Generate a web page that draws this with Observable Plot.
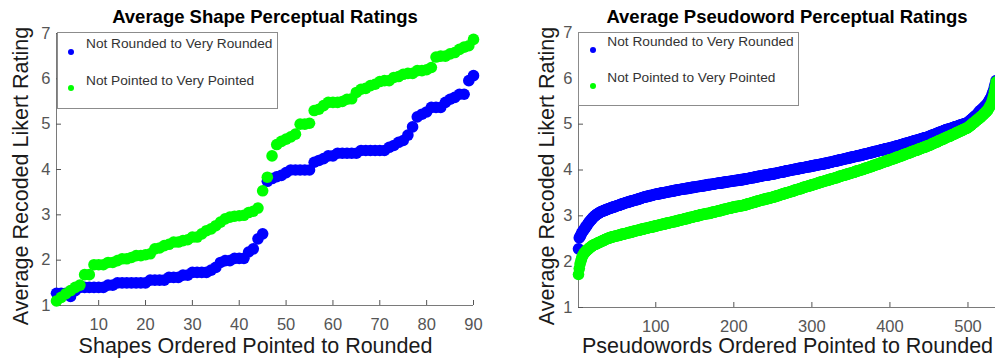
<!DOCTYPE html>
<html><head><meta charset="utf-8">
<script src="https://cdn.jsdelivr.net/npm/d3@7"></script>
<script src="https://cdn.jsdelivr.net/npm/@observablehq/plot@0.6"></script>
<style>
body{margin:0;background:#fff;}
#wrap{position:relative;width:995px;height:362px;overflow:hidden;font-family:"Liberation Sans",Arial,sans-serif;}
#wrap svg{position:absolute;top:0;}
.abs{position:absolute;white-space:nowrap;line-height:1;}
.title{font-weight:bold;font-size:18.5px;color:#000;transform:translate(-50%,-50%);}
.xlab{font-size:21.5px;color:#1a1a1a;transform:translate(-50%,-50%);}
.ylab{font-size:21.5px;color:#1a1a1a;transform:translate(-50%,-50%) rotate(-90deg);}
.legbox{border:1px solid #8c8c8c;background:#fff;box-sizing:border-box;}
.legtxt{font-size:13.7px;color:#333;transform:translateY(-50%);}
.legdot{width:6px;height:6px;border-radius:50%;transform:translate(-50%,-50%);}
</style>
</head><body>
<div id="wrap"></div>
<script>
// ---- Data ----
const seriesNames = ["Not Rounded to Very Rounded", "Not Pointed to Very Pointed"];
const seriesColors = ["#0000ff", "#00ff00"];
const yTicks = [1, 2, 3, 4, 5, 6, 7];
const shapeXTicks = [10, 20, 30, 40, 50, 60, 70, 80, 90];
const wordXTicks = [100, 200, 300, 400, 500];

// Shapes (90), ordered pointed to rounded
const shapeRounded = [
  1.27,1.27,1.27,1.20,1.33,1.40,1.40,1.40,1.40,1.40,
  1.40,1.45,1.45,1.50,1.50,1.50,1.50,1.50,1.50,1.50,
  1.56,1.56,1.56,1.56,1.62,1.62,1.62,1.67,1.67,1.73,
  1.73,1.73,1.73,1.78,1.84,1.95,1.99,1.99,2.04,2.04,
  2.04,2.18,2.25,2.47,2.58,3.74,3.80,3.84,3.87,3.93,
  3.99,3.99,3.99,3.99,3.99,4.16,4.20,4.24,4.30,4.30,
  4.36,4.36,4.36,4.36,4.36,4.42,4.42,4.42,4.42,4.42,
  4.42,4.49,4.53,4.60,4.64,4.76,4.94,5.16,5.22,5.27,
  5.37,5.37,5.37,5.48,5.55,5.59,5.66,5.66,5.96,6.07
];
const shapePointed = [
  1.10,1.18,1.26,1.33,1.40,1.45,1.68,1.68,1.90,1.90,
  1.90,1.95,1.95,1.99,2.03,2.03,2.06,2.10,2.10,2.12,
  2.14,2.25,2.27,2.32,2.35,2.40,2.40,2.43,2.45,2.51,
  2.51,2.58,2.65,2.69,2.76,2.84,2.91,2.95,2.97,2.98,
  2.99,3.05,3.08,3.15,3.53,3.83,4.30,4.55,4.62,4.67,
  4.72,4.78,5.00,5.00,5.02,5.30,5.33,5.41,5.48,5.48,
  5.48,5.50,5.55,5.56,5.70,5.77,5.79,5.85,5.88,5.94,
  5.96,5.96,6.03,6.05,6.10,6.12,6.12,6.18,6.18,6.20,
  6.25,6.48,6.50,6.50,6.55,6.58,6.65,6.70,6.73,6.87
];

// Pseudowords (536), ordered pointed to rounded
const wordRounded = [
  2.28,2.52,2.55,2.58,2.62,2.65,2.67,2.70,2.72,2.75,
  2.77,2.80,2.82,2.85,2.87,2.89,2.91,2.93,2.95,2.97,
  2.98,3.00,3.01,3.03,3.04,3.05,3.06,3.07,3.08,3.09,
  3.10,3.10,3.11,3.12,3.12,3.13,3.14,3.14,3.15,3.16,
  3.16,3.17,3.18,3.18,3.19,3.19,3.20,3.20,3.21,3.22,
  3.22,3.23,3.23,3.24,3.25,3.25,3.26,3.26,3.27,3.28,
  3.28,3.29,3.29,3.30,3.30,3.31,3.31,3.32,3.32,3.33,
  3.33,3.34,3.34,3.35,3.35,3.36,3.36,3.37,3.37,3.38,
  3.38,3.39,3.40,
  3.40,3.41,3.41,3.42,3.42,3.42,3.43,3.43,3.44,3.44,
  3.44,3.45,3.45,3.46,3.46,3.47,3.47,
  3.47,3.48,3.48,3.48,3.49,3.49,3.49,3.50,3.50,3.50,
  3.51,3.51,3.51,3.52,3.52,3.52,3.53,3.53,3.53,3.54,
  3.54,3.54,3.55,3.55,3.55,3.56,
  3.56,3.56,3.57,3.57,3.57,3.58,3.58,3.58,3.58,3.59,
  3.59,3.59,3.60,3.60,3.60,3.60,3.61,3.61,3.61,3.62,
  3.62,3.62,3.62,3.63,3.63,3.63,3.64,3.64,3.64,3.64,
  3.65,3.65,3.65,3.66,3.66,3.66,3.66,3.67,3.67,3.67,
  3.68,3.68,
  3.68,3.68,3.69,3.69,3.69,3.69,3.70,3.70,3.70,3.71,
  3.71,3.71,3.71,3.72,3.72,3.72,3.72,3.73,3.73,3.73,
  3.73,3.74,3.74,3.74,3.75,3.75,3.75,3.75,3.76,3.76,
  3.76,3.76,3.77,3.77,3.77,3.77,3.78,3.78,3.78,3.78,
  3.79,3.79,3.79,
  3.79,3.80,3.80,3.80,3.81,3.81,3.81,3.82,3.82,3.82,
  3.83,3.83,3.83,3.84,3.84,3.84,3.85,3.85,3.85,3.86,
  3.86,3.86,3.87,3.87,3.87,3.88,3.88,3.88,3.89,3.89,
  3.89,3.89,3.90,3.90,3.90,3.91,3.91,3.91,
  3.91,3.92,3.92,3.92,3.93,3.93,3.94,3.94,3.94,3.95,
  3.95,3.95,3.96,3.96,3.96,3.97,3.97,3.98,3.98,3.98,
  3.99,3.99,3.99,4.00,4.00,4.00,4.01,4.01,
  4.01,4.02,4.02,4.02,4.03,4.03,4.03,4.04,4.04,4.04,
  4.05,4.05,4.05,4.06,4.06,4.06,4.07,4.07,4.07,4.08,
  4.08,4.08,4.09,4.09,4.09,4.10,4.10,4.10,4.11,4.11,
  4.11,4.12,4.12,4.12,4.13,4.13,4.13,4.14,4.14,4.14,
  4.15,4.15,4.15,
  4.16,4.16,4.17,4.17,4.17,4.18,4.18,4.19,4.19,4.19,
  4.20,4.20,4.21,4.21,4.21,4.22,4.22,4.23,4.23,4.23,
  4.24,4.24,4.25,4.25,4.25,4.26,4.26,4.27,4.27,4.27,
  4.28,4.28,4.29,4.29,4.29,4.30,4.30,4.31,4.31,4.31,
  4.32,4.32,
  4.32,4.33,4.33,4.34,4.34,4.35,4.35,4.35,4.36,4.36,
  4.37,4.37,4.38,4.38,4.38,4.39,4.39,4.40,4.40,4.41,
  4.41,4.41,4.42,4.42,4.43,4.43,4.44,4.44,4.44,4.45,
  4.45,4.46,4.46,4.47,4.47,4.47,4.48,4.48,4.49,4.49,
  4.49,4.50,4.50,
  4.51,4.51,4.52,4.52,4.53,4.53,4.54,4.54,4.55,4.55,
  4.56,4.56,4.57,4.57,4.58,4.58,4.59,4.59,4.60,4.60,
  4.61,4.61,4.62,4.62,4.63,4.63,4.64,4.64,4.65,4.65,
  4.66,4.66,4.67,4.67,4.68,4.68,4.69,4.69,4.70,4.70,
  4.71,4.71,4.72,
  4.72,4.73,4.74,4.74,4.75,4.76,4.76,4.77,4.78,4.78,
  4.79,4.80,4.80,4.81,4.82,4.82,4.83,4.84,4.84,4.85,
  4.86,4.86,4.87,4.88,4.88,4.89,4.89,4.90,4.90,4.91,
  4.91,4.92,4.92,4.93,
  4.94,4.94,4.95,4.95,4.96,4.97,4.97,4.98,4.98,4.99,
  4.99,5.00,5.00,5.01,5.02,5.02,5.03,5.04,
  5.05,5.07,5.08,5.10,5.11,5.13,5.14,5.16,5.17,5.19,
  5.20,5.22,5.24,5.26,5.28,5.30,
  5.31,5.33,5.34,5.36,5.38,5.39,5.41,5.43,5.45,
  5.48,5.51,5.54,5.57,5.60,5.65,5.70,5.75,5.82,5.88,5.95
];
const wordPointed = [
  1.72,1.85,1.95,2.01,2.07,2.12,2.15,2.18,2.20,2.22,
  2.24,2.25,2.27,2.28,2.30,2.31,2.32,2.34,2.35,
  2.36,2.37,2.38,2.38,2.39,2.40,2.41,2.42,2.42,2.43,
  2.44,2.45,2.46,2.46,2.47,2.48,2.49,2.50,2.50,2.51,
  2.52,
  2.52,2.53,2.53,2.54,2.54,2.55,2.55,2.56,2.56,2.56,
  2.57,2.57,2.58,2.58,2.59,2.59,2.60,2.60,2.60,2.61,
  2.61,2.62,2.62,2.63,2.63,2.64,2.64,2.64,2.65,2.65,
  2.66,2.66,2.67,2.67,2.68,2.68,2.68,2.69,2.69,2.70,
  2.70,2.71,2.71,
  2.71,2.72,2.72,2.73,2.73,2.73,2.74,2.74,2.75,2.75,
  2.75,2.76,2.76,2.77,2.77,2.77,2.78,
  2.78,2.79,2.79,2.80,2.80,2.80,2.81,2.81,2.82,2.82,
  2.82,2.83,2.83,2.84,2.84,2.84,2.85,2.85,2.86,2.86,
  2.86,2.87,2.87,2.88,2.88,2.88,
  2.89,2.89,2.90,2.90,2.91,2.91,2.91,2.92,2.92,2.93,
  2.93,2.94,2.94,2.94,2.95,2.95,2.96,2.96,2.97,2.97,
  2.97,2.98,2.98,2.99,2.99,3.00,3.00,3.00,3.01,3.01,
  3.02,3.02,3.03,3.03,3.03,3.04,3.04,3.04,3.05,3.05,
  3.05,3.05,
  3.06,3.06,3.07,3.07,3.08,3.08,3.08,3.09,3.09,3.10,
  3.10,3.11,3.11,3.11,3.12,3.12,3.13,3.13,3.14,3.14,
  3.14,3.15,3.15,3.16,3.16,3.17,3.17,3.17,3.18,3.18,
  3.19,3.19,3.19,3.20,3.20,3.20,3.21,3.21,3.21,3.22,
  3.22,3.22,3.22,
  3.23,3.23,3.24,3.24,3.25,3.25,3.26,3.26,3.27,3.27,
  3.28,3.28,3.29,3.29,3.30,3.30,3.31,3.31,3.32,3.32,
  3.33,3.33,3.34,3.34,3.35,3.35,3.36,3.36,3.36,3.37,
  3.37,3.38,3.38,3.38,3.39,3.39,3.40,3.40,
  3.41,3.41,3.42,3.42,3.43,3.43,3.44,3.44,3.45,3.45,
  3.46,3.47,3.47,3.48,3.48,3.49,3.49,3.50,3.50,3.51,
  3.51,3.52,3.52,3.53,3.53,3.54,3.54,3.55,
  3.56,3.56,3.57,3.57,3.58,3.58,3.59,3.59,3.60,3.60,
  3.61,3.62,3.62,3.63,3.63,3.64,3.64,3.65,3.65,3.66,
  3.66,3.67,3.67,3.68,3.68,3.69,3.69,3.70,3.70,3.71,
  3.72,3.72,3.73,3.73,3.74,3.74,3.75,3.75,3.76,3.76,
  3.77,3.77,3.78,
  3.78,3.79,3.79,3.80,3.80,3.81,3.81,3.82,3.82,3.83,
  3.83,3.84,3.84,3.85,3.86,3.86,3.87,3.87,3.88,3.88,
  3.89,3.89,3.90,3.90,3.91,3.91,3.92,3.92,3.93,3.93,
  3.94,3.94,3.95,3.95,3.96,3.97,3.97,3.98,3.98,3.99,
  3.99,4.00,
  4.00,4.01,4.01,4.02,4.03,4.03,4.04,4.04,4.05,4.05,
  4.06,4.07,4.07,4.08,4.08,4.09,4.10,4.10,4.11,4.11,
  4.12,4.13,4.13,4.14,4.14,4.15,4.16,4.16,4.17,4.17,
  4.18,4.19,4.19,4.20,4.20,4.21,4.22,4.22,4.23,4.23,
  4.24,4.24,4.25,
  4.26,4.26,4.27,4.28,4.28,4.29,4.29,4.30,4.31,4.31,
  4.32,4.33,4.33,4.34,4.35,4.35,4.36,4.36,4.37,4.38,
  4.38,4.39,4.40,4.40,4.41,4.42,4.42,4.43,4.43,4.44,
  4.45,4.45,4.46,4.47,4.47,4.48,4.49,4.49,4.50,4.50,
  4.51,4.52,4.52,
  4.53,4.54,4.54,4.55,4.56,4.57,4.58,4.58,4.59,4.60,
  4.61,4.61,4.62,4.63,4.64,4.65,4.65,4.66,4.67,4.68,
  4.68,4.69,4.70,4.71,4.72,4.72,4.73,4.74,4.74,4.75,
  4.76,4.77,4.78,4.78,4.79,4.80,4.81,4.82,4.82,4.83,
  4.84,4.85,4.86,4.86,4.87,4.88,4.89,4.90,4.90,4.91,
  4.92,4.93,
  4.94,4.96,4.97,4.98,5.00,5.01,5.03,5.04,5.05,5.07,
  5.08,5.10,5.11,5.12,5.14,5.15,
  5.17,5.18,5.20,5.22,5.23,5.25,5.27,5.28,5.30,
  5.33,5.36,5.39,5.42,5.45,5.50,5.56,5.63,5.72,5.82,5.92
];

// ---- Build tables ----
const toRows = (arr) => arr.map((v, i) => ({idx: i + 1, v}));
const font = "'Liberation Sans', Arial, sans-serif";
const axisColor = "#555";

function panel({width, margins, xDomain, xTicks, rounded, pointed}) {
  return Plot.plot({
    width, height: 362,
    marginLeft: margins[0], marginRight: margins[1], marginTop: margins[2], marginBottom: margins[3],
    style: {background: "transparent", fontFamily: font, fontSize: "16.5px", color: axisColor, overflow: "visible"},
    x: {domain: xDomain},
    y: {domain: [1, 7]},
    marks: [
      Plot.ruleY([1], {stroke: "#7a7a7a"}),
      Plot.ruleX([xDomain[0]], {stroke: "#7a7a7a"}),
      Plot.axisX(xTicks, {tickSize: -5, tickPadding: 18, label: null}),
      Plot.axisY(yTicks, {tickSize: -5, tickPadding: 11, label: null}),
      Plot.dot(toRows(rounded), {x: "idx", y: "v", r: 5.8, fill: seriesColors[0]}),
      Plot.dot(toRows(pointed), {x: "idx", y: "v", r: 5.8, fill: seriesColors[1]})
    ]
  });
}

const wrap = document.getElementById("wrap");
const leftSvg = panel({width: 500, margins: [56, 27, 33, 57], xDomain: [1, 90], xTicks: shapeXTicks, rounded: shapeRounded, pointed: shapePointed});
leftSvg.style.left = "0px";
wrap.appendChild(leftSvg);
const rightSvg = panel({width: 500, margins: [78, 1.3, 32, 55], xDomain: [1, 540], xTicks: wordXTicks, rounded: wordRounded, pointed: wordPointed});
rightSvg.style.left = "500px";
wrap.appendChild(rightSvg);

function addDiv(cls, text, css) {
  const d = document.createElement("div");
  d.className = "abs " + cls;
  if (text) d.textContent = text;
  Object.assign(d.style, css);
  wrap.appendChild(d);
  return d;
}

const panels = [
  {title: "Average Shape Perceptual Ratings", tx: 265, xlab: "Shapes Ordered Pointed to Rounded", xl: 255.5, yl: 21.5,
   box: [56.5, 32, 221, 76.5], txtX: 86, txtY: [44, 80.7], dotX: 71, dotY: [51.7, 88.3]},
  {title: "Average Pseudoword Perceptual Ratings", tx: 787, xlab: "Pseudowords Ordered Pointed to Rounded", xl: 787.5, yl: 548,
   box: [577.5, 31.5, 221.5, 74], txtX: 607.3, txtY: [42.3, 78.3], dotX: 592.7, dotY: [50, 86]}
];
panels.forEach(p => {
  addDiv("title", p.title, {left: p.tx + "px", top: "17px"});
  addDiv("xlab", p.xlab, {left: p.xl + "px", top: "346.5px"});
  addDiv("ylab", "Average Recoded Likert Rating", {left: p.yl + "px", top: "176px"});
  addDiv("legbox", "", {left: p.box[0] + "px", top: p.box[1] + "px", width: p.box[2] + "px", height: p.box[3] + "px"});
  seriesNames.forEach((name, k) => {
    addDiv("legtxt", name, {left: p.txtX + "px", top: p.txtY[k] + "px"});
    addDiv("legdot", "", {left: p.dotX + "px", top: p.dotY[k] + "px", background: seriesColors[k]});
  });
});
</script>
</body></html>
